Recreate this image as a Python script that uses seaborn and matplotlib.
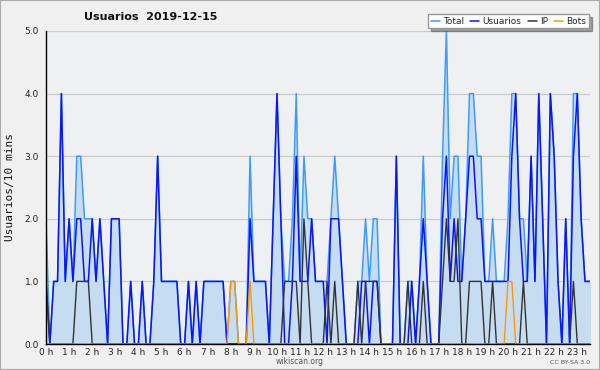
import matplotlib
matplotlib.use("Agg")
import matplotlib.pyplot as plt
from matplotlib.lines import Line2D
from matplotlib.patches import Rectangle
from matplotlib.ticker import MultipleLocator, FixedLocator
import seaborn as sns
import pandas as pd

# ── data: one value per 10-minute slot (144 slots, 2 hours per row) ──
slots = list(range(144))
hour_labels = [f"{h} h" for h in range(24)]

usuarios = [
    1, 0, 1, 1, 4, 1, 2, 1, 2, 2, 1, 1,
    2, 1, 2, 1, 0, 2, 2, 2, 0, 0, 1, 0,
    0, 1, 0, 0, 1, 3, 1, 1, 1, 1, 1, 0,
    0, 1, 0, 1, 0, 1, 1, 1, 1, 1, 1, 0,
    0, 0, 0, 0, 0, 2, 1, 1, 1, 1, 0, 2,
    4, 2, 0, 0, 1, 3, 1, 1, 1, 2, 1, 1,
    1, 0, 2, 2, 2, 1, 0, 0, 0, 0, 1, 1,
    0, 1, 1, 0, 0, 0, 0, 3, 0, 0, 0, 1,
    0, 1, 2, 1, 0, 0, 0, 2, 3, 1, 2, 1,
    1, 2, 3, 3, 2, 2, 1, 1, 1, 1, 1, 1,
    1, 3, 4, 2, 1, 1, 3, 1, 4, 2, 0, 4,
    3, 1, 0, 2, 0, 3, 4, 2, 1, 1, 1, 1,
]
ip = [
    1, 0, 0, 0, 0, 0, 0, 0, 1, 1, 1, 1,
    0, 0, 0, 0, 0, 0, 0, 0, 0, 0, 0, 0,
    0, 0, 0, 0, 0, 0, 0, 0, 0, 0, 0, 0,
    0, 0, 0, 0, 0, 0, 0, 0, 0, 0, 0, 0,
    0, 0, 0, 0, 0, 0, 0, 0, 0, 0, 0, 0,
    0, 0, 1, 1, 1, 1, 0, 2, 1, 0, 0, 0,
    0, 1, 0, 1, 0, 0, 0, 0, 0, 1, 0, 1,
    1, 1, 1, 0, 0, 0, 0, 0, 0, 0, 1, 0,
    0, 0, 1, 0, 0, 0, 0, 1, 2, 1, 1, 2,
    0, 0, 1, 1, 1, 1, 0, 0, 1, 0, 0, 0,
    0, 0, 0, 0, 1, 0, 0, 0, 0, 0, 0, 0,
    0, 0, 0, 0, 0, 1, 0, 0, 0, 0, 0, 0,
]
bots = [
    0, 0, 0, 0, 0, 0, 0, 0, 0, 0, 0, 0,
    0, 0, 0, 0, 0, 0, 0, 0, 0, 0, 0, 0,
    0, 0, 0, 0, 0, 0, 0, 0, 0, 0, 0, 0,
    0, 0, 0, 0, 0, 0, 0, 0, 0, 0, 0, 0,
    1, 1, 0, 0, 0, 1, 0, 0, 0, 0, 0, 0,
    0, 0, 0, 0, 0, 0, 0, 0, 0, 0, 0, 0,
    0, 0, 0, 0, 0, 0, 0, 0, 0, 0, 0, 0,
    0, 0, 0, 0, 0, 0, 0, 0, 0, 0, 0, 0,
    0, 0, 0, 0, 0, 0, 0, 0, 0, 0, 0, 0,
    0, 0, 0, 0, 0, 0, 0, 0, 0, 0, 0, 0,
    1, 1, 0, 0, 0, 0, 0, 0, 0, 0, 0, 0,
    0, 0, 0, 0, 0, 0, 0, 0, 0, 0, 0, 0,
]
total = [
    2, 0, 1, 1, 4, 1, 2, 1, 3, 3, 2, 2,
    2, 1, 2, 1, 0, 2, 2, 2, 0, 0, 1, 0,
    0, 1, 0, 0, 1, 3, 1, 1, 1, 1, 1, 0,
    0, 1, 0, 1, 0, 1, 1, 1, 1, 1, 1, 0,
    1, 1, 0, 0, 0, 3, 1, 1, 1, 1, 0, 2,
    4, 2, 1, 1, 2, 4, 1, 3, 2, 2, 1, 1,
    1, 1, 2, 3, 2, 1, 0, 0, 0, 1, 1, 2,
    1, 2, 2, 0, 0, 0, 0, 3, 0, 0, 1, 1,
    0, 1, 3, 1, 0, 0, 0, 3, 5, 2, 3, 3,
    1, 2, 4, 4, 3, 3, 1, 1, 2, 1, 1, 1,
    2, 4, 4, 2, 2, 1, 3, 1, 4, 2, 0, 4,
    3, 1, 0, 2, 0, 4, 4, 2, 1, 1, 1, 1,
]

C_TOTAL, C_FILL = "#3d9bff", "#c6dcf0"
C_USR, C_IP, C_BOT = "#0a14ff", "#333333", "#ff9900"

df = pd.DataFrame({"slot": slots, "Total": total, "Usuarios": usuarios,
                   "IP": ip, "Bots": bots})

sns.set_style("white")
plt.rcParams["font.family"] = ["DejaVu Sans"]

fig = plt.figure(figsize=(6, 3.7), dpi=100, facecolor="#f0f0f0")
ax = fig.add_axes([46 / 600, 26 / 370, 544 / 600, 313 / 370])
ax.set_facecolor("#eef0f2")

ax.fill_between(df["slot"], df["Total"], 0, color=C_FILL, lw=0, zorder=1)
sns.lineplot(data=df, x="slot", y="Total", color=C_TOTAL, lw=1.1, ax=ax, zorder=3)
sns.lineplot(data=df, x="slot", y="Usuarios", color=C_USR, lw=1.1, ax=ax, zorder=4)
sns.lineplot(data=df, x="slot", y="IP", color=C_IP, lw=1.0, ax=ax, zorder=5)
sns.lineplot(data=df, x="slot", y="Bots", color=C_BOT, lw=1.0, ax=ax, zorder=6)

# one slot is ~3.85 px wide, so the last slots fall just past the frame
ax.set_xlim(0, 141.3)
ax.set_ylim(0, 5)
ax.set_xlabel("")
ax.set_ylabel("")

for s in ["top", "right"]:
    ax.spines[s].set_visible(False)
for s in ["left", "bottom"]:
    ax.spines[s].set_color("black")
    ax.spines[s].set_linewidth(1.0)
    ax.spines[s].set_zorder(7)

ax.yaxis.set_major_locator(MultipleLocator(1))
ax.yaxis.set_minor_locator(MultipleLocator(0.25))
ax.set_yticklabels([f"{v:.1f}" for v in ax.get_yticks()])
ax.xaxis.set_major_locator(FixedLocator(slots[::6]))
ax.xaxis.set_minor_locator(FixedLocator(slots[:142]))
ax.set_xticklabels(hour_labels)
ax.tick_params(axis="y", which="major", direction="out", length=4, width=0.8,
               labelsize=6.5, labelcolor="#222222", pad=1)
ax.tick_params(axis="y", which="minor", direction="out", length=2.5, width=0.8)
ax.tick_params(axis="x", which="major", direction="out", length=3, width=0.8,
               labelsize=6.5, labelcolor="#222222", pad=0)
ax.tick_params(axis="x", which="minor", direction="out", length=3, width=0.8)
ax.grid(axis="y", which="major", color="#cccccc", lw=0.9, zorder=0)
ax.set_axisbelow(True)

fig.text(151 / 600, 1 - 17 / 370, "Usuarios  2019-12-15", ha="center", va="center",
         fontsize=8, fontweight="bold", color="#111111")
fig.text(10 / 600, 1 - 187 / 370, "Usuarios/10 mins", rotation=90, ha="center",
         va="center", fontsize=8, family="DejaVu Sans Mono", color="#111111")
fig.text(0.5, 1 - 362 / 370, "wikiscan.org", ha="center", va="center",
         fontsize=5.5, color="#555555")
fig.text(590 / 600, 1 - 363 / 370, "CC BY-SA 3.0", ha="right", va="center",
         fontsize=4.5, color="#555555")

handles = [Line2D([], [], color=c, lw=1.1) for c in (C_TOTAL, C_USR, C_IP, C_BOT)]
leg = fig.legend(handles, ["Total", "Usuarios", "IP", "Bots"], ncol=4,
                 loc="upper right", bbox_to_anchor=(589 / 600, 1 - 14 / 370),
                 fontsize=6.5, frameon=True, fancybox=False, shadow=True,
                 handlelength=1.0, handletextpad=0.35, columnspacing=0.7,
                 borderpad=0.3, borderaxespad=0)
leg.get_frame().set_edgecolor("#999999")
leg.get_frame().set_facecolor("white")

fig.patches.append(Rectangle((0, 0), 1, 1, transform=fig.transFigure, fill=False,
                             edgecolor="#aaaaaa", lw=1.5))

fig.savefig("out.png", dpi=100, facecolor=fig.get_facecolor())
